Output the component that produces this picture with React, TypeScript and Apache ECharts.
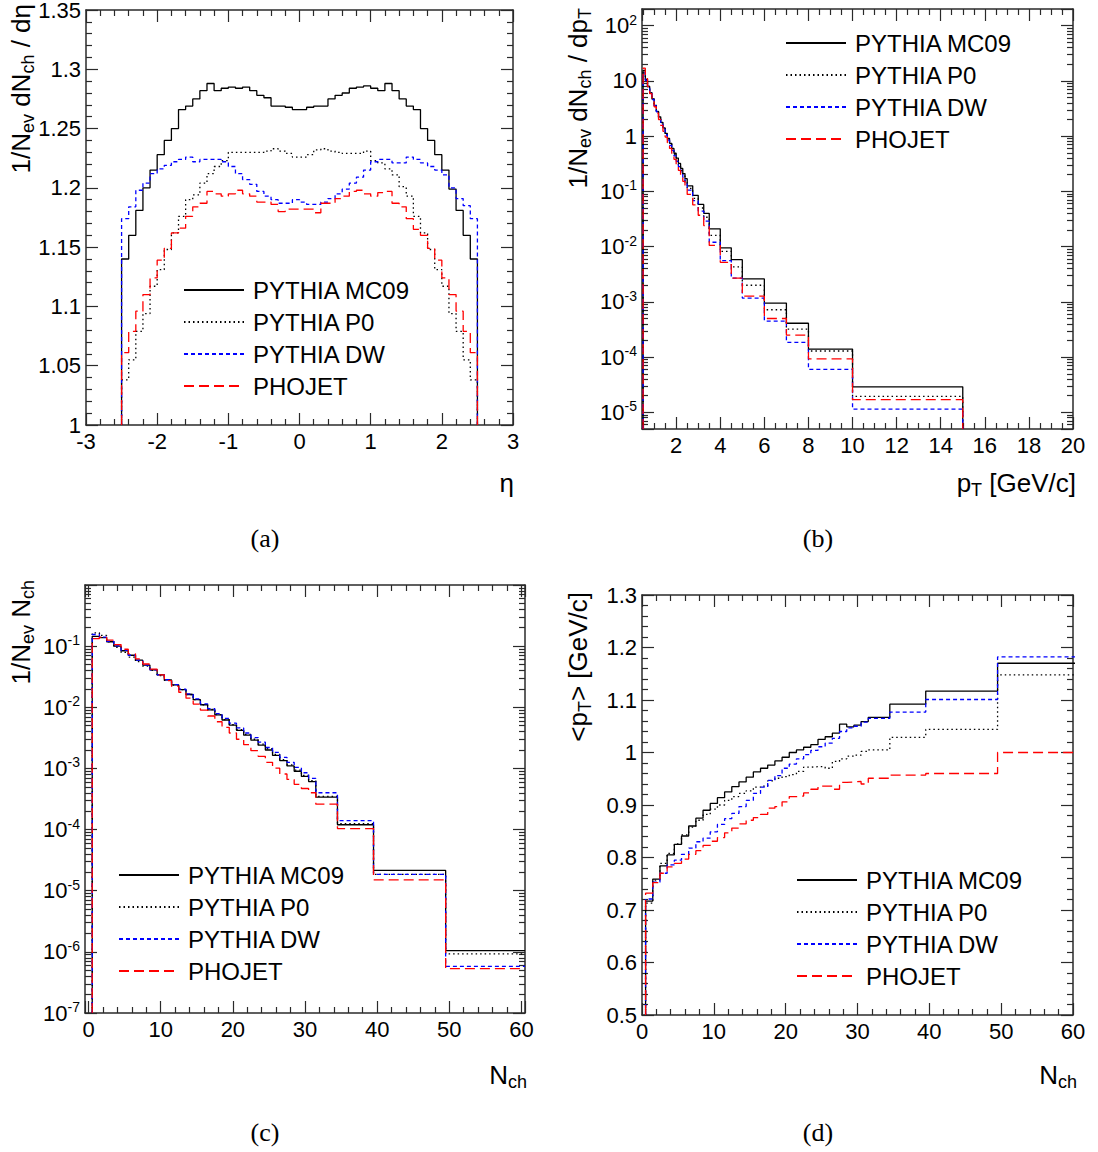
import React, { useEffect, useRef } from 'react';
import * as echarts from 'echarts';

const FONT = '"Liberation Sans", Arial, Helvetica, sans-serif';
const SERIF = '"Liberation Serif", "DejaVu Serif", serif';

const MODELS = ['PYTHIA MC09', 'PYTHIA P0', 'PYTHIA DW', 'PHOJET'];

// ---------- (a) dN/deta ----------
const etaEdges = [-2.5, -2.4, -2.3, -2.2, -2.1, -2.0, -1.9, -1.8, -1.7, -1.6, -1.5, -1.4, -1.3, -1.2, -1.1, -1.0, -0.9, -0.8, -0.7, -0.6, -0.5, -0.4, -0.3, -0.2, -0.1, 0, 0.1, 0.2, 0.3, 0.4, 0.5, 0.6, 0.7, 0.8, 0.9, 1.0, 1.1, 1.2, 1.3, 1.4, 1.5, 1.6, 1.7, 1.8, 1.9, 2.0, 2.1, 2.2, 2.3, 2.4, 2.5];
const mc09Eta = [1.140, 1.160, 1.181, 1.200, 1.215, 1.228, 1.240, 1.250, 1.266, 1.269, 1.275, 1.282, 1.288, 1.282, 1.284, 1.285, 1.284, 1.285, 1.282, 1.278, 1.276, 1.269, 1.269, 1.268, 1.266, 1.266, 1.268, 1.269, 1.269, 1.275, 1.278, 1.280, 1.284, 1.285, 1.286, 1.284, 1.282, 1.288, 1.282, 1.275, 1.269, 1.266, 1.250, 1.240, 1.228, 1.215, 1.199, 1.181, 1.160, 1.140];
const p0Eta = [1.038, 1.055, 1.079, 1.094, 1.117, 1.131, 1.148, 1.162, 1.176, 1.190, 1.194, 1.204, 1.212, 1.218, 1.223, 1.230, 1.230, 1.230, 1.230, 1.230, 1.231, 1.233, 1.231, 1.229, 1.226, 1.226, 1.228, 1.232, 1.233, 1.231, 1.230, 1.229, 1.229, 1.229, 1.231, 1.223, 1.221, 1.216, 1.211, 1.201, 1.193, 1.176, 1.162, 1.148, 1.131, 1.117, 1.094, 1.079, 1.055, 1.038];
const dwEta = [1.174, 1.184, 1.198, 1.204, 1.212, 1.216, 1.219, 1.222, 1.224, 1.226, 1.222, 1.224, 1.224, 1.224, 1.222, 1.218, 1.212, 1.207, 1.203, 1.197, 1.193, 1.190, 1.187, 1.187, 1.190, 1.188, 1.186, 1.186, 1.188, 1.191, 1.195, 1.199, 1.204, 1.209, 1.215, 1.222, 1.224, 1.224, 1.221, 1.221, 1.226, 1.224, 1.221, 1.218, 1.215, 1.211, 1.200, 1.191, 1.185, 1.174];
const phojetEta = [1.061, 1.079, 1.096, 1.110, 1.124, 1.139, 1.149, 1.162, 1.166, 1.176, 1.184, 1.187, 1.197, 1.195, 1.193, 1.195, 1.198, 1.195, 1.193, 1.188, 1.188, 1.186, 1.180, 1.182, 1.182, 1.182, 1.182, 1.179, 1.187, 1.187, 1.191, 1.193, 1.197, 1.198, 1.195, 1.193, 1.196, 1.197, 1.187, 1.184, 1.174, 1.165, 1.160, 1.149, 1.139, 1.124, 1.110, 1.096, 1.079, 1.061];

// ---------- (b) dN/dpT ----------
const ptEdges = [0.5, 0.6, 0.7, 0.8, 0.9, 1.0, 1.1, 1.2, 1.3, 1.4, 1.5, 1.6, 1.7, 1.8, 1.9, 2.0, 2.1, 2.2, 2.3, 2.4, 2.5, 2.75, 3.0, 3.25, 3.5, 4.0, 4.5, 5, 6, 7, 8, 10, 15];
const mc09Pt = [15.5, 10.5, 7.9, 6.0, 4.7, 3.6, 2.8, 2.24, 1.78, 1.41, 1.12, 0.91, 0.74, 0.60, 0.49, 0.40, 0.32, 0.26, 0.21, 0.17, 0.126, 0.085, 0.058, 0.040, 0.021, 0.0095, 0.0058, 0.0026, 9.5e-4, 4.1e-4, 1.4e-4, 2.9e-5];
const p0Pt = [15.0, 10.8, 8.0, 6.1, 4.7, 3.6, 2.8, 2.2, 1.75, 1.38, 1.09, 0.88, 0.71, 0.57, 0.46, 0.37, 0.30, 0.24, 0.19, 0.155, 0.113, 0.075, 0.050, 0.034, 0.016, 0.0082, 0.0043, 0.0020, 7.2e-4, 3.2e-4, 1.29e-4, 1.95e-5];
const dwPt = [14.0, 10.2, 7.8, 6.0, 4.6, 3.55, 2.75, 2.15, 1.7, 1.34, 1.06, 0.85, 0.68, 0.55, 0.44, 0.35, 0.28, 0.225, 0.18, 0.145, 0.105, 0.068, 0.044, 0.029, 0.012, 0.0056, 0.0027, 0.00117, 4.5e-4, 1.85e-4, 6.0e-5, 1.14e-5];
const phojetPt = [17.0, 11.0, 7.9, 5.9, 4.5, 3.4, 2.6, 2.0, 1.56, 1.22, 0.96, 0.76, 0.60, 0.48, 0.38, 0.30, 0.24, 0.19, 0.152, 0.122, 0.088, 0.057, 0.037, 0.024, 0.0105, 0.0052, 0.0027, 0.00127, 5.0e-4, 2.5e-4, 9.3e-5, 1.7e-5];

// ---------- (c) multiplicity ----------
const nchEdges = [0.5, 1.5, 2.5, 3.5, 4.5, 5.5, 6.5, 7.5, 8.5, 9.5, 10.5, 11.5, 12.5, 13.5, 14.5, 15.5, 16.5, 17.5, 18.5, 19.5, 20.5, 21.5, 22.5, 23.5, 24.5, 25.5, 26.5, 27.5, 28.5, 29.5, 30.5, 31.5, 34.5, 39.5, 49.5, 60.5];
const mc09Nch = [0.145, 0.138, 0.118, 0.100, 0.084, 0.071, 0.059, 0.049, 0.041, 0.034, 0.0280, 0.0232, 0.0195, 0.0162, 0.0133, 0.0110, 0.0091, 0.0075, 0.0062, 0.0051, 0.0042, 0.0035, 0.0029, 0.0024, 0.0020, 0.00163, 0.00134, 0.00110, 0.00090, 0.00074, 0.00061, 3.4e-4, 1.2e-4, 2.15e-5, 1.05e-6];
const p0Nch = [0.165, 0.150, 0.118, 0.096, 0.079, 0.066, 0.056, 0.047, 0.040, 0.033, 0.0275, 0.0230, 0.0194, 0.0162, 0.0133, 0.0110, 0.0092, 0.0076, 0.0063, 0.0052, 0.0043, 0.0036, 0.0030, 0.0025, 0.0021, 0.0017, 0.00139, 0.00114, 0.00094, 0.00077, 0.00063, 3.5e-4, 1.25e-4, 1.85e-5, 9.3e-7];
const dwNch = [0.155, 0.140, 0.120, 0.101, 0.085, 0.071, 0.059, 0.049, 0.041, 0.034, 0.0282, 0.0235, 0.0198, 0.0166, 0.0137, 0.0114, 0.0095, 0.0079, 0.0066, 0.0055, 0.0046, 0.0038, 0.0032, 0.0027, 0.0022, 0.00183, 0.00152, 0.00126, 0.00104, 0.00085, 0.00069, 4.0e-4, 1.4e-4, 1.85e-5, 5.8e-7];
const phojetNch = [0.133, 0.140, 0.125, 0.106, 0.089, 0.075, 0.062, 0.051, 0.042, 0.034, 0.0272, 0.0220, 0.0176, 0.0141, 0.0113, 0.0090, 0.0072, 0.0058, 0.0047, 0.0038, 0.0030, 0.00245, 0.00195, 0.00158, 0.00126, 0.00101, 0.00081, 0.00066, 0.00055, 0.00047, 0.00040, 2.6e-4, 1.04e-4, 1.5e-5, 5.3e-7];

// ---------- (d) <pT> vs Nch ----------
const mc09Mpt = [0.717, 0.759, 0.784, 0.805, 0.825, 0.841, 0.860, 0.875, 0.890, 0.903, 0.914, 0.925, 0.935, 0.944, 0.953, 0.963, 0.970, 0.976, 0.984, 0.991, 1.000, 1.005, 1.010, 1.015, 1.025, 1.030, 1.037, 1.054, 1.049, 1.052, 1.059, 1.067, 1.092, 1.117, 1.170];
const p0Mpt = [0.713, 0.757, 0.789, 0.808, 0.826, 0.843, 0.858, 0.871, 0.882, 0.892, 0.900, 0.909, 0.916, 0.922, 0.927, 0.934, 0.936, 0.946, 0.951, 0.954, 0.958, 0.964, 0.972, 0.973, 0.973, 0.970, 0.983, 0.988, 0.993, 0.995, 1.002, 1.005, 1.029, 1.044, 1.148];
const dwMpt = [0.721, 0.753, 0.770, 0.786, 0.795, 0.806, 0.818, 0.830, 0.837, 0.849, 0.863, 0.874, 0.884, 0.897, 0.909, 0.922, 0.934, 0.947, 0.956, 0.970, 0.978, 0.988, 0.996, 1.004, 1.011, 1.018, 1.027, 1.040, 1.047, 1.050, 1.058, 1.065, 1.077, 1.101, 1.182];
const phojetMpt = [0.732, 0.752, 0.770, 0.782, 0.789, 0.797, 0.806, 0.813, 0.823, 0.831, 0.838, 0.847, 0.856, 0.864, 0.871, 0.876, 0.882, 0.894, 0.897, 0.906, 0.916, 0.917, 0.923, 0.930, 0.936, 0.936, 0.930, 0.943, 0.944, 0.945, 0.940, 0.951, 0.957, 0.960, 1.000];

const LINE_STYLES = [
  { color: '#000000', type: 'solid', width: 1.3 },
  { color: '#000000', type: [1.5, 3], width: 1.3 },
  { color: '#0000ff', type: [4, 3], width: 1.3 },
  { color: '#ff0000', type: [10, 5], width: 1.3 },
];

function stepPoints(edges: number[], vals: number[], floorStart: number | null, floorEnd: number | null) {
  const pts: number[][] = [];
  if (floorStart !== null) pts.push([edges[0], floorStart]);
  for (let i = 0; i < vals.length; i++) pts.push([edges[i], vals[i]]);
  pts.push([edges[vals.length], vals[vals.length - 1]]);
  if (floorEnd !== null) pts.push([edges[vals.length], floorEnd]);
  return pts;
}

function histSeries(g: number, edges: number[], vals: number[], k: number, fs: number | null, fe: number | null) {
  const ls = LINE_STYLES[k];
  return {
    type: 'line',
    name: MODELS[k],
    xAxisIndex: 2 * g,
    yAxisIndex: 2 * g,
    step: 'end',
    symbol: 'none',
    showSymbol: false,
    clip: true,
    silent: true,
    color: ls.color,
    itemStyle: { color: ls.color },
    lineStyle: { color: ls.color, type: ls.type, width: ls.width },
    data: stepPoints(edges, vals, fs, fe),
  };
}

const AXIS_COLOR = '#2a2a2a';

const LOG_RICH = {
  b: { fontSize: 22, fontFamily: FONT, color: '#000', lineHeight: 26 },
  s: { fontSize: 14, fontFamily: FONT, color: '#000', lineHeight: 14, verticalAlign: 'top' },
};

function logFmt(hideOne: boolean) {
  return (v: number) => {
    const l = Math.log10(v);
    const e = Math.round(l);
    if (Math.abs(l - e) > 1e-6) return '';
    if (e === 0) return hideOne ? '' : '1';
    if (e === 1) return '10';
    return `{b|10}{s|${e}}`;
  };
}

function axisCommon(gridIndex: number, position: string, split: number) {
  return {
    gridIndex,
    position,
    axisLine: { show: true, onZero: false, lineStyle: { color: AXIS_COLOR, width: 1.5 } },
    axisTick: { show: true, inside: true, length: 12, lineStyle: { color: AXIS_COLOR, width: 1.2 } },
    minorTick: { show: true, splitNumber: split, length: 6, lineStyle: { color: AXIS_COLOR, width: 1.2 } },
    splitLine: { show: false },
    minorSplitLine: { show: false },
  };
}

function linAxis(g: number, pos: string, showLabel: boolean, min: number, max: number, split: number, extra: any) {
  const { labelFmt, ...rest } = extra || {};
  return {
    type: 'value',
    ...axisCommon(g, pos, split),
    min,
    max,
    ...rest,
    axisLabel: {
      show: showLabel,
      fontSize: 22,
      fontFamily: FONT,
      color: '#000',
      margin: 5,
      ...(labelFmt ? { formatter: labelFmt } : {}),
    },
  };
}

function logAxis(g: number, pos: string, showLabel: boolean, min: number, max: number, hideOne: boolean) {
  return {
    type: 'log',
    logBase: 10,
    ...axisCommon(g, pos, 9),
    min,
    max,
    axisLabel: {
      show: showLabel,
      fontSize: 22,
      fontFamily: FONT,
      color: '#000',
      margin: 5,
      formatter: logFmt(hideOne),
      rich: LOG_RICH,
    },
  };
}

const hideNonMult = (m: number) => (v: number) => {
  const r = v / m;
  return Math.abs(r - Math.round(r)) < 1e-6 ? String(Math.round(v * 1000) / 1000) : '';
};

const TITLE_RICH = {
  t: { fontSize: 26, fontFamily: FONT, color: '#000', lineHeight: 32 },
  s: { fontSize: 18, fontFamily: FONT, color: '#000', lineHeight: 18, verticalAlign: 'bottom' },
};

function titleText(x: number, y: number, text: string, rotate: boolean, align: string) {
  return {
    type: 'text',
    x,
    y,
    rotation: rotate ? Math.PI / 2 : 0,
    silent: true,
    style: {
      text,
      rich: TITLE_RICH,
      fill: '#000',
      fontSize: 26,
      fontFamily: FONT,
      align,
      textAlign: align,
      verticalAlign: 'middle',
      textVerticalAlign: 'middle',
    },
  };
}

function caption(x: number, y: number, text: string) {
  return {
    type: 'text',
    x,
    y,
    silent: true,
    style: {
      text,
      fill: '#000',
      fontSize: 26,
      fontFamily: SERIF,
      align: 'center',
      textAlign: 'center',
      verticalAlign: 'middle',
      textVerticalAlign: 'middle',
    },
  };
}

function legend(left: number, top: number) {
  return {
    show: true,
    orient: 'vertical',
    left,
    top,
    itemWidth: 60,
    itemHeight: 14,
    itemGap: 8,
    selectedMode: false,
    padding: 0,
    data: MODELS,
    itemStyle: { opacity: 0, borderWidth: 0 },
    textStyle: { fontSize: 24, fontFamily: FONT, color: '#000', lineHeight: 24, padding: [0, 0, 0, 4] },
  };
}

function makeOption() {
  const grids = [
    { left: 86, top: 10, width: 427, height: 415 },
    { left: 642, top: 9, width: 431, height: 420 },
    { left: 85, top: 585, width: 440, height: 428 },
    { left: 642, top: 595, width: 431, height: 420 },
  ].map((g) => ({ ...g, containLabel: false, outerBoundsMode: 'none', show: false }));

  const xAxis = [
    linAxis(0, 'bottom', true, -3, 3, 5, { interval: 1 }),
    linAxis(0, 'top', false, -3, 3, 5, { interval: 1 }),
    linAxis(1, 'bottom', true, 0.45, 20, 4, { splitNumber: 10, labelFmt: hideNonMult(2) }),
    linAxis(1, 'top', false, 0.45, 20, 4, { splitNumber: 10 }),
    linAxis(2, 'bottom', true, -0.5, 60.5, 5, { splitNumber: 6, labelFmt: hideNonMult(10) }),
    linAxis(2, 'top', false, -0.5, 60.5, 5, { splitNumber: 6 }),
    linAxis(3, 'bottom', true, 0, 60, 5, { interval: 10 }),
    linAxis(3, 'top', false, 0, 60, 5, { interval: 10 }),
  ];
  const yAxis = [
    linAxis(0, 'left', true, 1, 1.35, 5, { interval: 0.05 }),
    linAxis(0, 'right', false, 1, 1.35, 5, { interval: 0.05 }),
    logAxis(1, 'left', true, 5e-6, 200, false),
    logAxis(1, 'right', false, 5e-6, 200, false),
    logAxis(2, 'left', true, 1e-7, 1, true),
    logAxis(2, 'right', false, 1e-7, 1, true),
    linAxis(3, 'left', true, 0.5, 1.3, 5, { interval: 0.1 }),
    linAxis(3, 'right', false, 0.5, 1.3, 5, { interval: 0.1 }),
  ];

  const etaSets = [mc09Eta, p0Eta, dwEta, phojetEta];
  const ptSets = [mc09Pt, p0Pt, dwPt, phojetPt];
  const nchSets = [mc09Nch, p0Nch, dwNch, phojetNch];
  const mptSets = [mc09Mpt, p0Mpt, dwMpt, phojetMpt];

  const series: any[] = [];
  for (let k = 0; k < 4; k++) series.push(histSeries(0, etaEdges, etaSets[k], k, 1, 1));
  for (let k = 0; k < 4; k++) series.push(histSeries(1, ptEdges, ptSets[k], k, 5e-6, 5e-6));
  for (let k = 0; k < 4; k++) series.push(histSeries(2, nchEdges, nchSets[k], k, 1e-7, null));
  for (let k = 0; k < 4; k++) series.push(histSeries(3, nchEdges, mptSets[k], k, 0.5, null));

  const graphic = [
    titleText(21, 4, '{t|1/N}{s|ev}{t| dN}{s|ch}{t| / dη}', true, 'right'),
    titleText(578, 8, '{t|1/N}{s|ev}{t| dN}{s|ch}{t| / dp}{s|T}', true, 'right'),
    titleText(21, 580, '{t|1/N}{s|ev}{t| N}{s|ch}', true, 'right'),
    titleText(578, 592, '{t|<p}{s|T}{t|> [GeV/c]}', true, 'right'),
    titleText(514, 483, '{t|η}', false, 'right'),
    titleText(1076, 483, '{t|p}{s|T}{t| [GeV/c]}', false, 'right'),
    titleText(527, 1075, '{t|N}{s|ch}', false, 'right'),
    titleText(1077, 1075, '{t|N}{s|ch}', false, 'right'),
    caption(265, 538, '(a)'),
    caption(818, 538, '(b)'),
    caption(265, 1132, '(c)'),
    caption(818, 1132, '(d)'),
  ];

  return {
    animation: false,
    backgroundColor: '#ffffff',
    grid: grids,
    xAxis,
    yAxis,
    legend: [legend(183, 278), legend(785, 31), legend(118, 863), legend(796, 868)],
    series,
    graphic,
  };
}

export default function App() {
  const ref = useRef<HTMLDivElement | null>(null);
  useEffect(() => {
    if (!ref.current) return;
    const chart = echarts.init(ref.current, null, { renderer: 'svg' });
    chart.setOption(makeOption() as any);
    return () => chart.dispose();
  }, []);
  return (
    <div
      ref={ref}
      style={{ position: 'fixed', left: 0, top: 0, width: 1098, height: 1152, background: '#fff' }}
    />
  );
}
